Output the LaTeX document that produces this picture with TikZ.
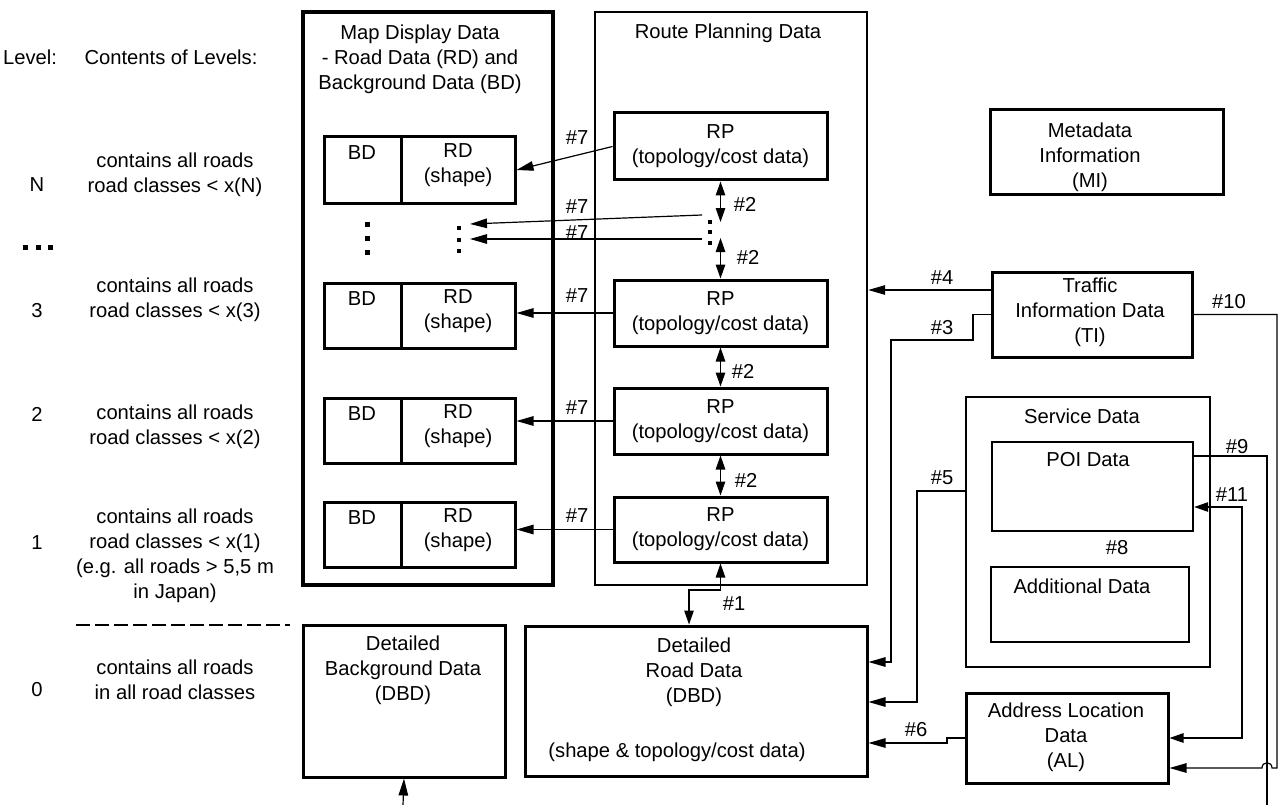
\documentclass[tikz,border=0pt]{standalone}
\usepackage{fontspec}
\setmainfont{Liberation Sans}
\usetikzlibrary{arrows.meta,fit}
\begin{document}
\begin{tikzpicture}[x=1pt,y=-1pt,
  txt/.style={font=\fontsize{20.2}{25}\selectfont, align=center, inner sep=0pt},
  frame/.style={draw, line width=3.2pt, inner sep=0pt},
  thinframe/.style={draw, line width=2.4pt, inner sep=0pt},
  databox/.style={draw, line width=3pt, inner sep=0pt},
  conn/.style={line width=1.2pt, -{Triangle[length=17pt,width=9.5pt]}},
  plain/.style={line width=1.2pt},
  dbl/.style={line width=1.2pt, {Triangle[length=14pt,width=9.5pt]}-{Triangle[length=14pt,width=9.5pt]}},
  dot/.style={fill=black}
]
\useasboundingbox (0,0) rectangle (1284,805);

% ---- level column ----
\node[txt] (hlevel) at (30,57) {Level:};
\node[txt] (hcont) at (171,57) {Contents of Levels:};
\node[txt] (lN) at (37,185) {N};
\node[txt] (l3) at (37,311) {3};
\node[txt] (l2) at (37,414) {2};
\node[txt] (l1) at (37,543) {1};
\node[txt] (l0) at (37,690) {0};
\foreach \dx in {25,38,50} \fill[dot] (\dx-2.5,245) rectangle ++(5,5);
\node[txt] (cN) at (175,174.5) {contains all roads\\road classes < x(N)};
\node[txt] (c3) at (175,299.5) {contains all roads\\road classes < x(3)};
\node[txt] (c2) at (175,426.5) {contains all roads\\road classes < x(2)};
\node[txt] (c1) at (175,555.5) {contains all roads\\road classes < x(1)\\(e.g. all roads > 5,5 m\\in Japan)};
\node[txt] (c0) at (175,680) {contains all roads\\in all road classes};
\draw[line width=1.1pt, dash pattern=on 14pt off 5pt] (76,625) -- (290,625);

% ---- map display data ----
\node[frame, fit={(303,12) (553,585)}] (md) {};
\node[txt] (mdt) at (420,59) {Map Display Data\\- Road Data (RD) and\\Background Data (BD)};
\foreach \n/\t/\b in {N/137/203, 3/283/348, 2/398/463, 1/502/567} {
  \node[databox, fit={(324,\t) (401,\b)}] (bd\n) {};
  \node[databox, fit={(401,\t) (515,\b)}] (rd\n) {};
  \node[txt] at (362,\t+16) {BD};
  \node[txt] at (458,\t+28.5) {RD\\(shape)};
}
\foreach \dy in {224,238,252} \fill[dot] (367-2.5,\dy-2.5) rectangle ++(5,5);
\foreach \dy in {228,240,251} \fill[dot] (459-2,\dy-2) rectangle ++(4,4);

% ---- route planning data ----
\node[thinframe, fit={(595,12) (867,585)}] (rp) {};
\node[txt] (rpt) at (728,33) {Route Planning Data};
\foreach \n/\t/\b in {N/113/180, 3/280/346, 2/388/454, 1/497/562} {
  \node[databox, fit={(614,\t) (827,\b)}] (rp\n) {};
  \node[txt] at (rp\n) {RP\\(topology/cost data)};
}
\foreach \dy in {222,232,243} \fill[dot] (710-2,\dy-2) rectangle ++(4,4);
\coordinate (dotsTop) at (720.5,222);
\coordinate (dotsBot) at (720.5,238);
\coordinate (sA) at (702,215);
\coordinate (sB) at (702,239);
\coordinate (tA) at (470,224);
\coordinate (tB) at (470,239);

% #2 links between levels
\draw[dbl] (rpN.south) -- (dotsTop);
\draw[dbl] (dotsBot) -- (rp3.north);
\draw[dbl] (rp3.south) -- (rp2.north);
\draw[dbl] (rp2.south) -- (rp1.north);
\node[txt] (n2a) at (745,204) {\#2};
\node[txt] (n2b) at (748,257) {\#2};
\node[txt] (n2c) at (743,371) {\#2};
\node[txt] (n2d) at (746,480) {\#2};

% #7 links RP -> RD
\draw[conn] (rpN.west) -- (rdN.east);
\draw[conn] (sA) -- (tA);
\draw[conn] (sB) -- (tB);
\draw[conn] (rp3.west) -- (rp3.west -| rd3.east);
\draw[conn] (rp2.west) -- (rp2.west -| rd2.east);
\draw[conn] (rp1.west) -- (rp1.west -| rd1.east);
\foreach \y in {138,207,233,296,408,516} \node[txt] at (577,\y) {\#7};

% ---- detailed data ----
\node[databox, fit={(303,625) (505,777)}] (dbd) {};
\node[txt] at (403,670) {Detailed\\Background Data\\(DBD)};
\node[databox, fit={(525,626) (867,776)}] (dr) {};
\node[txt] at (694,672) {Detailed\\Road Data\\(DBD)};
\node[txt] at (677,752) {(shape \& topology/cost data)};
\coordinate (dbdIn) at (403,805);
\draw[conn] (dbdIn) -- (dbd.south);

% #1
\coordinate (j1) at (689,590);
\draw[dbl] (rp1.south) |- (j1) -- (j1 |- dr.north);
\node[txt] (n1) at (734,604) {\#1};

% ---- metadata ----
\node[databox, fit={(990,110) (1223,195)}] (mi) {};
\node[txt] at (1090,157) {Metadata\\Information\\(MI)};

% ---- traffic information ----
\node[databox, fit={(992,272) (1192,357)}] (ti) {};
\node[txt] at (1090,312) {Traffic\\Information Data\\(TI)};
\draw[conn] (ti.west |- 0,290) -- (rp.east |- 0,290);
\node[txt] at (942,278) {\#4};
\draw[conn] (ti.west) -- (973,314.5) -- (973,340) -- (891,340) |- (dr.east |- 0,662);
\node[txt] at (942,328) {\#3};

% ---- service data ----
\node[thinframe, fit={(966,397) (1210,667)}] (sd) {};
\node[txt] at (1082,416) {Service Data};
\node[thinframe, fit={(992,442) (1193,531)}] (poi) {};
\node[txt] at (1088,460) {POI Data};
\node[thinframe, fit={(991,567) (1189,642)}] (ad) {};
\node[txt] at (1082,586) {Additional Data};
\node[txt] at (1117,548) {\#8};
\draw[conn] (sd.west |- 0,491) -- (917,491) -- (917,702) -- (dr.east |- 0,702);
\node[txt] at (942,478) {\#5};

% ---- address location ----
\node[databox, fit={(966,693) (1168,783)}] (al) {};
\node[txt] at (1066,737) {Address Location\\Data\\(AL)};
\draw[conn] (al.west) -- (947,738) -- (947,743) -- (dr.east |- 0,743);
\node[txt] at (916,730) {\#6};

% #9 leaves the picture at the bottom
\coordinate (out9) at (1267,805);
\draw[plain] (poi.east |- 0,456) -| (out9);
\node[txt] at (1237,447) {\#9};

% #10 from TI to AL, hopping over #9
\draw[conn] (ti.east) -- (1277,314.5) -- (1277,768) -- (1272,768)
  .. controls (1272,761) and (1262,761) .. (1262,768) -- (al.east |- 0,768);
\node[txt] at (1229,302) {\#10};

% #11 between POI and AL
\draw[dbl] (poi.east |- 0,507) -- (1242,507) -- (1242,738) -- (al.east);
\node[txt] at (1232,495) {\#11};
\end{tikzpicture}
\end{document}
